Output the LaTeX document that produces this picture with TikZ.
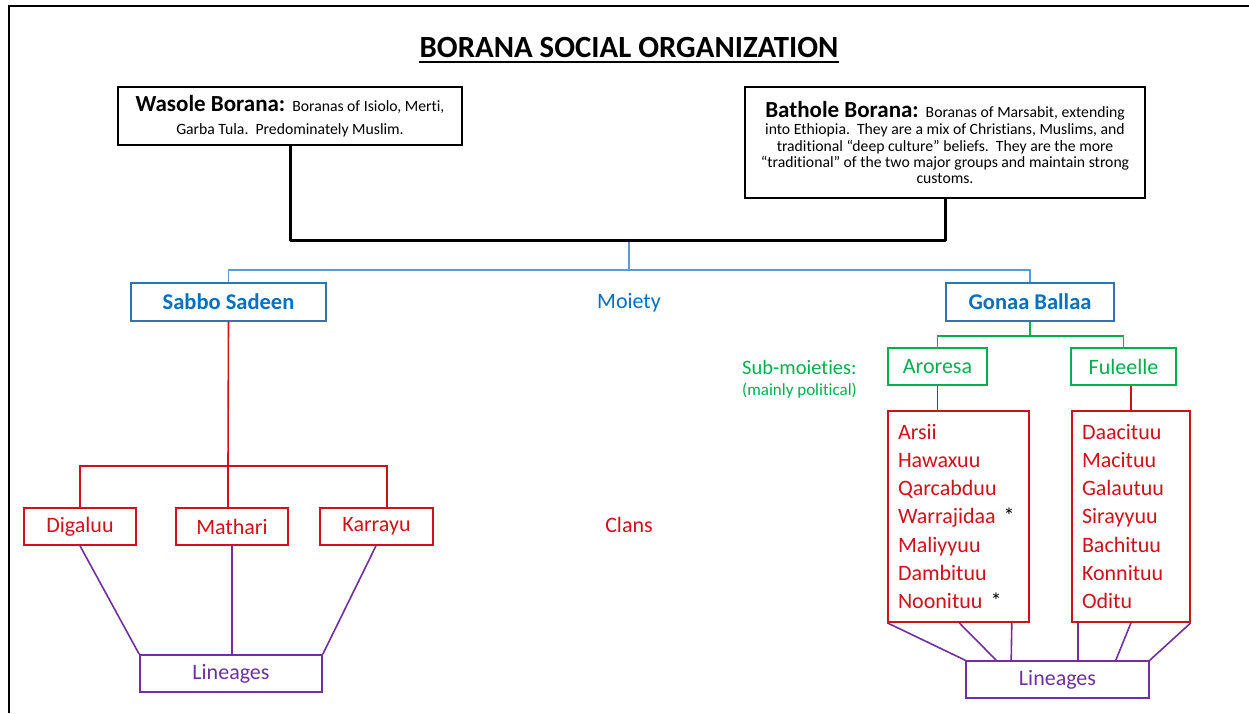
\documentclass[tikz,border=0pt]{standalone}
\usepackage{fontspec}
\setmainfont[Ligatures=NoCommon]{Carlito}
\usetikzlibrary{calc}
\definecolor{mblue}{HTML}{0070C0}
\definecolor{boxblue}{HTML}{2E75B6}
\definecolor{lineblue}{HTML}{5B9BD5}
\definecolor{mgreen}{HTML}{00B050}
\definecolor{mred}{HTML}{D0101A}
\definecolor{mpurple}{HTML}{7030A0}
\newcommand\setfs[2]{\fontsize{#1}{#2}\selectfont}
\begin{document}
\begin{tikzpicture}[x=1pt,y=-1pt,
  topbox/.style={draw=black, line width=1.8pt, inner sep=0pt, align=center,
    font=\setfs{15.7}{16.4}},
  bluebox/.style={draw=boxblue, line width=1.6pt, inner sep=0pt, text=mblue,
    font=\setfs{22.5}{26}\bfseries, minimum height=38pt},
  greenbox/.style={draw=mgreen, line width=1.6pt, inner sep=0pt, text=mgreen,
    font=\setfs{22}{26}, minimum height=37pt},
  redbox/.style={draw=mred, line width=1.6pt, inner sep=0pt, text=mred,
    font=\setfs{22}{26}, minimum height=37pt},
  clanlist/.style={draw=mred, line width=1.6pt, inner xsep=10pt, inner ysep=0pt,
    text=mred, align=left, font=\setfs{22}{28.2}, minimum height=211pt},
  purplebox/.style={draw=mpurple, line width=1.6pt, inner sep=0pt, text=mpurple,
    font=\setfs{22}{26}, minimum height=37pt},
  blackline/.style={draw=black, line width=3pt, line join=round},
  blueline/.style={draw=lineblue, line width=1.6pt},
  greenline/.style={draw=mgreen, line width=1.6pt},
  redline/.style={draw=mred, line width=1.6pt},
  purpleline/.style={draw=mpurple, line width=1.6pt},
  label/.style={inner sep=0pt}
]
\useasboundingbox (0,0) rectangle (1249,713);
\fill[white] (0,0) rectangle (1249,713);

% page frame
\draw[line width=2.5pt] (9,713) -- (9,6) -- (1249,6);

% title
\node[label, font=\setfs{30.8}{36}\bfseries] (title) at (629,48) {BORANA SOCIAL ORGANIZATION};
\draw[line width=2pt] ([yshift=-3.5pt]title.south west) -- ([yshift=-3.5pt]title.south east);

% two major groups
\node[topbox, minimum width=344pt, minimum height=58pt] (wasole) at (290,116)
  {{\setfs{23}{26}\bfseries Wasole Borana:}\hspace{7pt}Boranas of Isiolo, Merti,\\[6pt]
   Garba Tula.\ \ Predominately Muslim.};
\node[topbox, minimum width=400pt, minimum height=111pt] (bathole) at (945,142.5)
  {{\setfs{23}{26}\bfseries Bathole Borana:}\hspace{7pt}Boranas of Marsabit, extending\\[1pt]
   into Ethiopia.\ \ They are a mix of Christians, Muslims, and\\
   traditional “deep culture” beliefs.\ \ They are the more\\
   “traditional” of the two major groups and maintain strong\\
   customs.};

% moieties
\node[bluebox, minimum width=195pt] (sabbo) at (228.5,302) {Sabbo Sadeen};
\node[bluebox, minimum width=168pt] (gonaa) at (1030,302) {Gonaa Ballaa};
\node[label, text=mblue, font=\setfs{22}{26}] (moiety) at (629,303) {Moiety};

% sub-moieties
\node[greenbox, minimum width=99pt] (aroresa) at (937.5,366.5) {Aroresa};
\node[greenbox, minimum width=105pt] (fuleelle) at (1123.5,366.5) {Fuleelle};
\node[label, anchor=west, text=mgreen, font=\setfs{20.5}{24}] (submo) at (742,367) {Sub-moieties:};
\node[label, anchor=west, text=mgreen, font=\setfs{17}{20}] (polit) at (742,391) {(mainly political)};

% clans
\node[label, text=mred, font=\setfs{22}{26}] (clans) at (629,525) {Clans};
\node[redbox, minimum width=112pt] (digaluu) at (80,526.5) {Digaluu};
\node[redbox, minimum width=112pt] (mathari) at (232,526.5) {Mathari};
\node[redbox, minimum width=113pt] (karrayu) at (376.5,526.5) {Karrayu};
\node[clanlist, text width=121pt] (clansA) at (958.5,516.5)
  {Arsii\\ Hawaxuu\\ Qarcabduu\\ \mbox{Warrajidaa\hspace{8pt}{\color{black}*}}\\ Maliyyuu\\ Dambituu\\ \mbox{Noonituu\hspace{8pt}{\color{black}*}}};
\node[clanlist, text width=98pt] (clansB) at (1131,516.5)
  {Daacituu\\ Macituu\\ Galautuu\\ Sirayyuu\\ Bachituu\\ Konnituu\\ Oditu};

% lineages
\node[purplebox, minimum width=182pt] (lineL) at (231,673.5) {Lineages};
\node[purplebox, minimum width=183pt] (lineR) at (1057.5,679.5) {Lineages};

% junction points
\coordinate (jb) at (629,240);
\coordinate (jm) at (629,270);
\coordinate (jg) at (1030,336);
\coordinate (jr) at (228,466);
\coordinate (kt) at (387,508);

% black connector between the two groups
\draw[blackline] (wasole.south) |- (jb) -| (bathole.south);

% blue moiety connectors
\draw[blueline] ([yshift=-1.5pt]jb) -- (jm);
\draw[blueline] (sabbo.north) |- (jm) -| (gonaa.north);

% green sub-moiety connectors
\draw[greenline] (gonaa.south) -- (jg);
\draw[greenline] (aroresa.north) |- (jg) -| (fuleelle.north);

% red clan connectors
\draw[redline] (sabbo.south) -- (jr);
\draw[redline] (digaluu.north) |- (jr) -| (kt);
\draw[redline] (jr) -- (jr |- mathari.north);
\draw[redline] (aroresa.south) -- (aroresa.south |- clansA.north);
\draw[redline] (clansB.north) -- (clansB.north |- fuleelle.south);

% purple lineage connectors, left
\draw[purpleline] (digaluu.south) -- (lineL.north west);
\draw[purpleline] (mathari.south) -- (mathari.south |- lineL.north);
\draw[purpleline] ([xshift=-0.5pt]karrayu.south) -- (lineL.north east);

% purple lineage connectors, right
\draw[purpleline] (clansA.south west) -- (lineR.north west);
\draw[purpleline] ([xshift=72pt]clansA.south west) -- ([xshift=31pt]lineR.north west);
\draw[purpleline] ([xshift=-18pt]clansA.south east) -- ([xshift=46pt]lineR.north west);
\draw[purpleline] ([xshift=7pt]clansB.south west) -- ([xshift=113pt]lineR.north west);
\draw[purpleline] (clansB.south) -- ([xshift=-34pt]lineR.north east);
\draw[purpleline] (clansB.south east) -- (lineR.north east);
\end{tikzpicture}
\end{document}
